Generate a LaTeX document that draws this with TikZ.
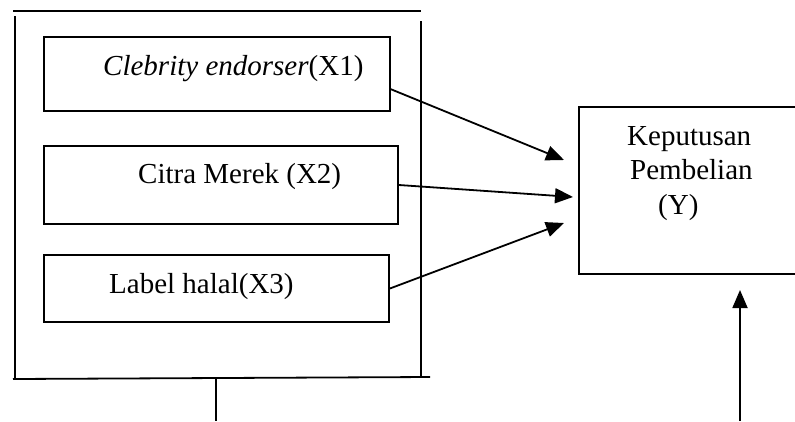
\documentclass[tikz,border=0pt]{standalone}
\usepackage{fontspec}
\setmainfont{Liberation Serif}
\usetikzlibrary{arrows.meta}
\tikzset{
	varbox/.style={draw, line width=1.8pt, inner sep=0pt},
	varlabel/.style={anchor=base west, inner sep=0pt, font=\fontsize{29}{34}\selectfont},
	link/.style={line width=1.8pt, -{Triangle[length=18pt,width=15pt]}}
}
\begin{document}
\begin{tikzpicture}[x=1pt,y=-1pt]
	\useasboundingbox (0,0) rectangle (795,421);
	% outer frame
	\draw[line width=1.8pt] (13,11) -- (421,11);
	\draw[line width=1.8pt] (15,16) -- (15,378);
	\draw[line width=1.8pt] (421,21) -- (421,378);
	\draw[line width=1.8pt] (13,379) -- (430,377);
	\draw[line width=1.8pt] (216,378) -- (216,421);
	% independent variables
	\node[varbox, minimum width=346pt, minimum height=74pt] (x1) at (217,74) {};
	\node[varbox, minimum width=354pt, minimum height=78pt] (x2) at (221,185) {};
	\node[varbox, minimum width=345pt, minimum height=67pt] (x3) at (216.5,288.5) {};
	\node[varlabel] (x1text) at (103,75) {\textit{Clebrity endorser}(X1)};
	\node[varlabel] (x2text) at (138,183) {Citra Merek (X2)};
	\node[varlabel] (x3text) at (109,293) {Label halal(X3)};
	% dependent variable
	\node[varbox, minimum width=221pt, minimum height=167pt] (y) at (689.5,190.5) {};
	\node[varlabel] (ytext1) at (627,145) {Keputusan};
	\node[varlabel] (ytext2) at (630,179) {Pembelian};
	\node[varlabel] (ytext3) at (658,214) {(Y)};
	\coordinate (t1) at (564,160);
	\coordinate (t2) at (573,197);
	\coordinate (t3) at (564,223);
	\coordinate (b) at (740,421);
	\coordinate (bt) at (740,290);
	\draw[link] (x1.-5) -- (t1);
	\draw[link] (x2.east) -- (t2);
	\draw[link] (x3.east) -- (t3);
	\draw[link] (b) -- (bt);
\end{tikzpicture}
\end{document}
